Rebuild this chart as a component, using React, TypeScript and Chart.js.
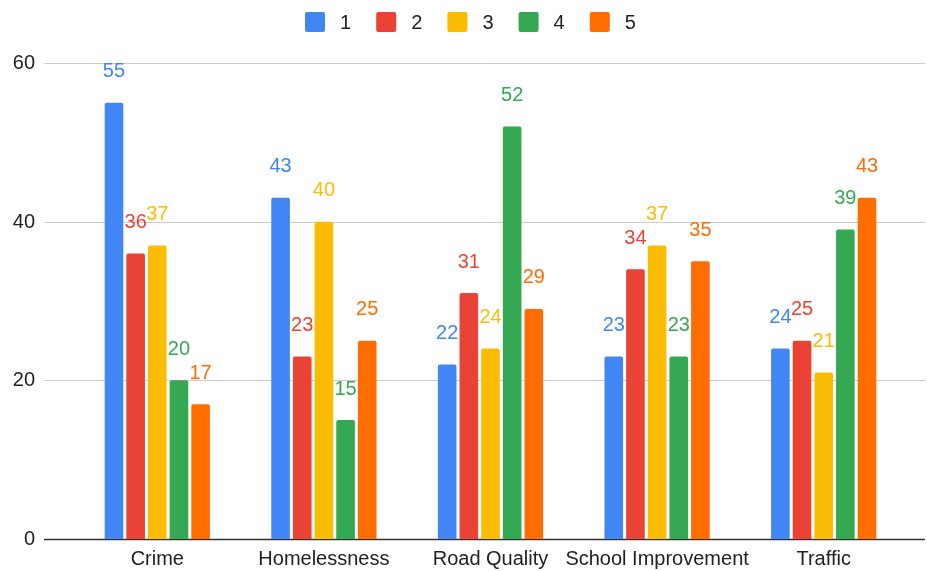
import React, { useEffect, useRef } from "react";
import { Chart, registerables } from "chart.js";

Chart.register(...registerables);

const categories = ["Crime", "Homelessness", "Road Quality", "School Improvement", "Traffic"];
const seriesNames = ["1", "2", "3", "4", "5"];
const series1 = [55, 43, 22, 23, 24];
const series2 = [36, 23, 31, 34, 25];
const series3 = [37, 40, 24, 37, 21];
const series4 = [20, 15, 52, 23, 39];
const series5 = [17, 25, 29, 35, 43];
const colors = ["#4285F4", "#EA4335", "#FBBC04", "#34A853", "#FF6D01"];

const FONT = "'Liberation Sans', Arial, sans-serif";

const gridPlugin = {
  id: "fullGrid",
  beforeDatasetsDraw(chart: any) {
    const { ctx } = chart;
    const y = chart.scales.y;
    ctx.save();
    ctx.font = `20px ${FONT}`;
    ctx.textAlign = "right";
    ctx.textBaseline = "middle";
    y.ticks.forEach((tk: any) => {
      const t = tk.value;
      const py = Math.round(y.getPixelForValue(t)) + 0.5;
      ctx.beginPath();
      ctx.strokeStyle = t === 0 ? "#333333" : "#cccccc";
      ctx.lineWidth = t === 0 ? 1.5 : 1;
      ctx.moveTo(44, py);
      ctx.lineTo(925, py);
      ctx.stroke();
      ctx.fillStyle = "#222222";
      ctx.fillText(String(t), 35, py);
    });
    ctx.restore();
  },
};

const labelPlugin = {
  id: "valueLabels",
  afterDatasetsDraw(chart: any) {
    const { ctx } = chart;
    ctx.save();
    ctx.font = `20px ${FONT}`;
    ctx.textAlign = "center";
    ctx.textBaseline = "middle";
    chart.data.datasets.forEach((ds: any, di: number) => {
      const meta = chart.getDatasetMeta(di);
      meta.data.forEach((bar: any, i: number) => {
        ctx.fillStyle = ds.backgroundColor;
        ctx.fillText(String(ds.data[i]), bar.x, bar.y - 31);
      });
    });
    ctx.restore();
  },
};

const legendPlugin = {
  id: "customLegend",
  afterDraw(chart: any) {
    const { ctx } = chart;
    ctx.save();
    ctx.font = `20px ${FONT}`;
    ctx.textBaseline = "middle";
    ctx.textAlign = "left";
    const startX = 305;
    const step = 71.2;
    const cy = 22;
    chart.data.datasets.forEach((ds: any, i: number) => {
      const x = startX + i * step;
      ctx.fillStyle = ds.backgroundColor;
      ctx.beginPath();
      (ctx as any).roundRect(x, cy - 10, 20, 20, 2);
      ctx.fill();
      ctx.fillStyle = "#222222";
      ctx.fillText(ds.label, x + 35, cy + 1);
    });
    ctx.restore();
  },
};

export default function App() {
  const ref = useRef<HTMLCanvasElement>(null);
  useEffect(() => {
    document.body.style.margin = "0";
    const all = [series1, series2, series3, series4, series5];
    const chart = new Chart(ref.current!, {
      type: "bar",
      data: {
        labels: categories,
        datasets: all.map((d, i) => ({
          label: seriesNames[i],
          data: d,
          backgroundColor: colors[i],
          borderRadius: 2,
          borderSkipped: "bottom" as const,
          barPercentage: 0.86,
          categoryPercentage: 0.65,
        })),
      },
      options: {
        animation: false,
        responsive: true,
        maintainAspectRatio: false,
        layout: { padding: { top: 63, right: 20, bottom: 0, left: 0 } },
        plugins: {
          legend: { display: false },
          tooltip: { enabled: false },
        },
        scales: {
          x: {
            grid: { display: false, drawTicks: false },
            border: { display: false },
            ticks: {
              color: "#222222",
              font: { size: 20, family: FONT },
              padding: 8,
              autoSkip: false,
              maxRotation: 0,
              minRotation: 0,
            },
            afterFit: (s: any) => {
              s.height = 32;
            },
          },
          y: {
            min: 0,
            max: 60,
            grid: { display: false, drawTicks: false },
            border: { display: false },
            ticks: {
              display: false,
              stepSize: 20,
              padding: 0,
            },
            afterFit: (s: any) => {
              s.width = 74;
            },
          },
        },
      },
      plugins: [gridPlugin, labelPlugin, legendPlugin],
    });
    return () => chart.destroy();
  }, []);
  return (
    <div style={{ width: 927, height: 571, position: "relative", background: "#fff" }}>
      <canvas ref={ref} />
    </div>
  );
}
